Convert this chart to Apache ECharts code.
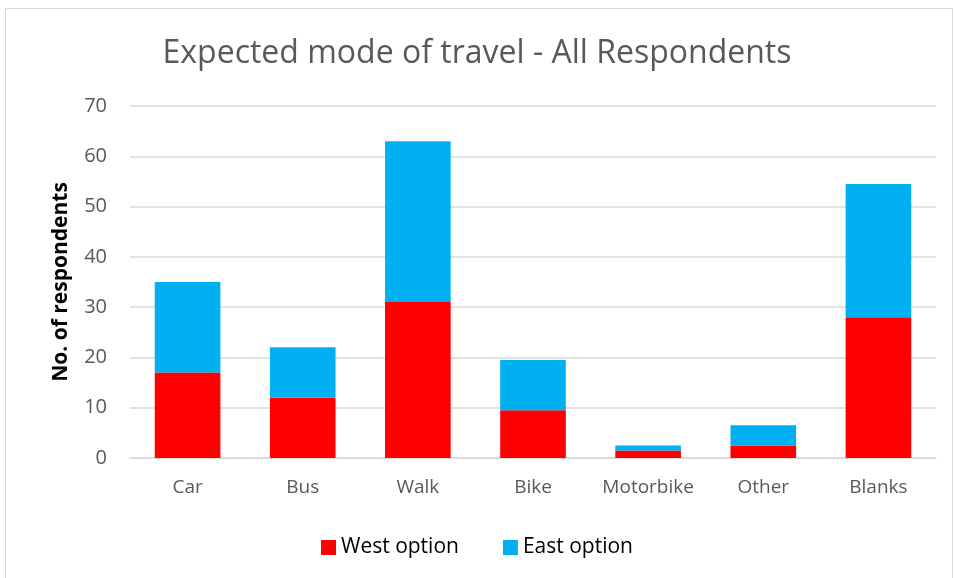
<!DOCTYPE html>
<html><head><meta charset="utf-8">
<script src="https://cdn.jsdelivr.net/npm/echarts@6/dist/echarts.min.js"></script>
<style>html,body{margin:0;padding:0;background:#fff}#c{width:954px;height:578px}
#frame{position:absolute;left:5px;top:8px;width:948px;height:575px;border:1px solid #d9d9d9;box-sizing:border-box;pointer-events:none}</style>
</head><body><div id="c"></div><div id="frame"></div>
<script>
const categories = ['Car','Bus','Walk','Bike','Motorbike','Other','Blanks'];
const westOption = [17, 12, 31, 9.5, 1.5, 2.5, 28];
const eastOption = [18, 10, 32, 10, 1, 4, 26.5];
const yTicks = {min: 0, max: 70, interval: 10};
const FONT = '"Open Sans", "Noto Sans", sans-serif';
const chart = echarts.init(document.getElementById('c'));
chart.setOption({
  animation: false,
  textStyle: {fontFamily: FONT},
  title: {
    text: 'Expected mode of travel - All Respondents',
    left: 'center', top: 33,
    textStyle: {fontFamily: FONT, fontSize: 32, fontWeight: 'normal', color: '#595959'}
  },
  legend: {
    bottom: 15, left: 'center', itemWidth: 15, itemHeight: 15, itemGap: 44,
    icon: 'rect',
    textStyle: {fontFamily: FONT, fontSize: 21, color: '#000'},
    data: ['West option', 'East option']
  },
  grid: {left: 130, right: 18, top: 106, bottom: 120, containLabel: false},
  xAxis: {
    type: 'category', data: categories,
    axisLine: {show: true, lineStyle: {color: '#d9d9d9', width: 1.5}},
    axisTick: {show: false},
    axisLabel: {color: '#595959', fontSize: 19, margin: 20, interval: 0, fontFamily: FONT}
  },
  yAxis: {
    type: 'value', min: yTicks.min, max: yTicks.max, interval: yTicks.interval,
    name: 'No. of respondents', nameLocation: 'middle', nameGap: 58, nameRotate: 90,
    nameTextStyle: {fontFamily: FONT, fontSize: 21, fontWeight: 'bold', color: '#000'},
    axisLine: {show: false}, axisTick: {show: false},
    axisLabel: {color: '#595959', fontSize: 20, margin: 23, fontFamily: FONT},
    splitLine: {lineStyle: {color: '#d9d9d9', width: 1.5}}
  },
  series: [
    {name: 'West option', type: 'bar', stack: 'a', data: westOption, barWidth: '57%',
     itemStyle: {color: '#ff0000'}},
    {name: 'East option', type: 'bar', stack: 'a', data: eastOption, barWidth: '57%',
     itemStyle: {color: '#00b0f0'}}
  ]
});
</script></body></html>
